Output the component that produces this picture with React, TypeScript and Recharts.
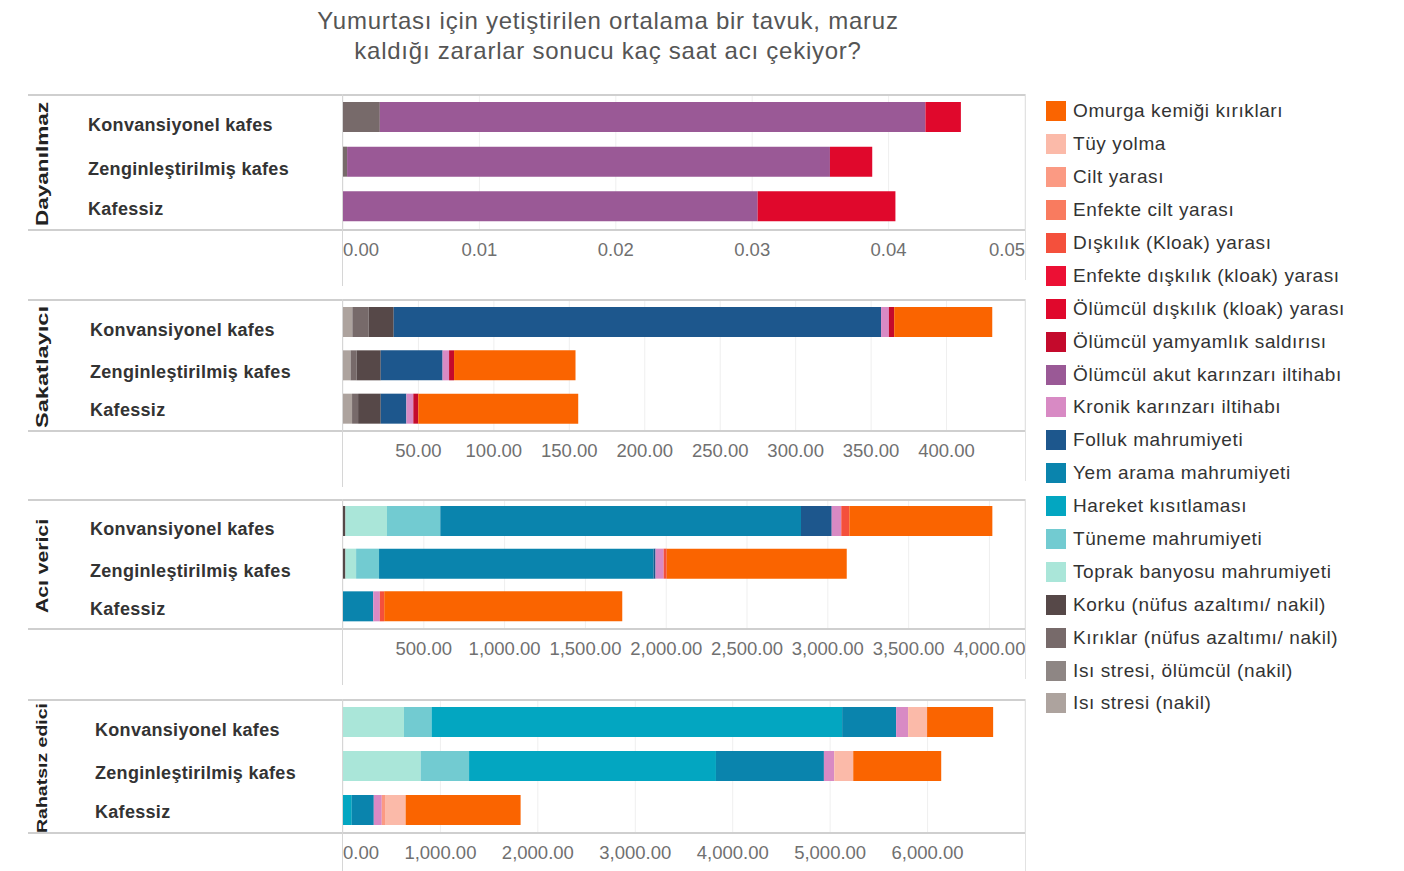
import React from 'react';
import { BarChart, Bar, XAxis, YAxis, CartesianGrid } from 'recharts';

// ---------- DATA ----------
const categories = ['Konvansiyonel kafes', 'Zenginleştirilmiş kafes', 'Kafessiz'];

const seriesNames = [
  'Omurga kemiği kırıkları',
  'Tüy yolma',
  'Cilt yarası',
  'Enfekte cilt yarası',
  'Dışkılık (Kloak) yarası',
  'Enfekte dışkılık (kloak) yarası',
  'Ölümcül dışkılık (kloak) yarası',
  'Ölümcül yamyamlık saldırısı',
  'Ölümcül akut karınzarı iltihabı',
  'Kronik karınzarı iltihabı',
  'Folluk mahrumiyeti',
  'Yem arama mahrumiyeti',
  'Hareket kısıtlaması',
  'Tüneme mahrumiyeti',
  'Toprak banyosu mahrumiyeti',
  'Korku (nüfus azaltımı/ nakil)',
  'Kırıklar (nüfus azaltımı/ nakil)',
  'Isı stresi, ölümcül (nakil)',
  'Isı stresi (nakil)',
];

const seriesColors = [
  '#fa6400', '#fbbaa9', '#fb9a83', '#f97b5f', '#f4503c', '#ec1034', '#e0082c', '#c40a2c',
  '#9a5996', '#d88ac4', '#1d578d', '#0a84ad', '#03a6c1', '#72cbd1', '#aae6d9',
  '#564848', '#776a6a', '#8e8684', '#ada39e',
];

// values per series: [Konvansiyonel, Zenginleştirilmiş, Kafessiz]
const dayanilmaz: Record<string, number[]> = {
  'Kırıklar (nüfus azaltımı/ nakil)': [0.0027, 0.0003, 0],
  'Ölümcül akut karınzarı iltihabı': [0.04, 0.0354, 0.0304],
  'Ölümcül dışkılık (kloak) yarası': [0.0026, 0.0031, 0.0101],
};

const sakatlayici: Record<string, number[]> = {
  'Isı stresi (nakil)': [6.2, 5, 6],
  'Kırıklar (nüfus azaltımı/ nakil)': [10.8, 4, 4],
  'Korku (nüfus azaltımı/ nakil)': [16.6, 16, 15],
  'Folluk mahrumiyeti': [323, 41, 17],
  'Kronik karınzarı iltihabı': [5.2, 4.3, 4.6],
  'Ölümcül yamyamlık saldırısı': [3.5, 3.3, 3.3],
  'Omurga kemiği kırıkları': [65, 80.5, 106],
};

const aciVerici: Record<string, number[]> = {
  'Korku (nüfus azaltımı/ nakil)': [15, 15, 0],
  'Toprak banyosu mahrumiyeti': [257, 66, 0],
  'Tüneme mahrumiyeti': [330, 142, 0],
  'Yem arama mahrumiyeti': [2232, 1699, 187],
  'Folluk mahrumiyeti': [190, 12, 0],
  'Kronik karınzarı iltihabı': [59, 50, 41],
  'Dışkılık (Kloak) yarası': [50, 19, 27],
  'Omurga kemiği kırıkları': [885, 1114, 1473],
};

const rahatsizEdici: Record<string, number[]> = {
  'Toprak banyosu mahrumiyeti': [626, 797, 0],
  'Tüneme mahrumiyeti': [283, 497, 0],
  'Hareket kısıtlaması': [4214, 2534, 90],
  'Yem arama mahrumiyeti': [554, 1108, 226],
  'Kronik karınzarı iltihabı': [123, 106, 82],
  'Cilt yarası': [0, 0, 40],
  'Tüy yolma': [195, 195, 205],
  'Omurga kemiği kırıkları': [678, 903, 1180],
};

const ticks1 = [0, 0.01, 0.02, 0.03, 0.04, 0.05];
const ticks2 = [50, 100, 150, 200, 250, 300, 350, 400];
const ticks3 = [500, 1000, 1500, 2000, 2500, 3000, 3500, 4000];
const ticks4 = [0, 1000, 2000, 3000, 4000, 5000, 6000];

const titleLines = [
  'Yumurtası için yetiştirilen ortalama bir tavuk, maruz',
  'kaldığı zararlar sonucu kaç saat acı çekiyor?',
];

// ---------- HELPERS ----------
const buildRows = (panel: Record<string, number[]>) =>
  categories.map((name, i) => {
    const row: Record<string, any> = { name };
    seriesNames.forEach((s, k) => {
      row['s' + k] = panel[s] ? panel[s][i] : 0;
    });
    return row;
  });

const fmt = (v: number) =>
  v.toLocaleString('en-US', { minimumFractionDigits: 2, maximumFractionDigits: 2 });

const FONT = '"Liberation Sans", Arial, sans-serif';

const panels = [
  { label: 'Dayanılmaz', data: dayanilmaz, domain: [0, 0.05], ticks: ticks1, top: 95, bottom: 229, labelX: 88, labelLen: 124, labelSize: 16 },
  { label: 'Sakatlayıcı', data: sakatlayici, domain: [0, 452], ticks: ticks2, top: 300, bottom: 430, labelX: 90, labelLen: 122, labelSize: 16 },
  { label: 'Acı verici', data: aciVerici, domain: [0, 4220], ticks: ticks3, top: 500, bottom: 628, labelX: 90, labelLen: 94, labelSize: 16 },
  { label: 'Rahatsız edici', data: rahatsizEdici, domain: [0, 7000], ticks: ticks4, top: 700, bottom: 832, labelX: 95, labelLen: 130, labelSize: 14 },
];

const rowLabelOffsets = [8, 7, 2];

const makeXTick = (domain: number[]) => (props: any) => {
  const { x, y, payload } = props;
  const v = payload.value;
  let anchor: 'start' | 'middle' | 'end' = 'middle';
  if (v === domain[0]) anchor = 'start';
  else if (v === domain[1]) anchor = 'end';
  return (
    <text x={x} y={y + 20} textAnchor={anchor} dominantBaseline="central" fill="#707070" fontSize={18.5} fontFamily={FONT}>
      {fmt(v)}
    </text>
  );
};

const makeYTick = (labelX: number) => (props: any) => {
  const { y, index, payload } = props;
  return (
    <text x={labelX} y={y + (rowLabelOffsets[index] || 0)} textAnchor="start" dominantBaseline="central" fill="#333" fontSize={18} fontWeight="bold" letterSpacing={0.3} fontFamily={FONT}>
      {payload.value}
    </text>
  );
};

const line = (left: number, top: number, width: number, height: number, color = '#cfcfcf') => (
  <div style={{ position: 'absolute', left, top, width, height, background: color }} />
);

export default function App() {
  const stackOrder = seriesNames.map((_, k) => k).reverse();
  return (
    <div style={{ position: 'absolute', left: 0, top: 0, width: 1404, height: 871, background: '#fff', fontFamily: FONT, overflow: 'hidden' }}>
      {titleLines.map((t, i) => (
        <div key={i} style={{ position: 'absolute', left: 0, width: 1216, top: 7 + i * 30, textAlign: 'center', fontSize: 24, letterSpacing: 0.75, color: '#555', lineHeight: '28px' }}>
          {t}
        </div>
      ))}

      {panels.map((p, pi) => {
        const plotH = p.bottom - p.top;
        return (
          <React.Fragment key={pi}>
            <div style={{ position: 'absolute', left: 0, top: p.top }}>
              <BarChart
                width={1030}
                height={plotH + 50}
                data={buildRows(p.data)}
                layout="vertical"
                margin={{ top: 0, right: 5, left: 0, bottom: 0 }}
                barSize={30}
              >
                <CartesianGrid horizontal={false} vertical stroke="#efefef" />
                <XAxis
                  type="number"
                  domain={p.domain}
                  ticks={p.ticks}
                  height={50}
                  tickLine={false}
                  axisLine={false}
                  tickSize={0}
                  tickMargin={0}
                  interval={0}
                  allowDataOverflow
                  tick={makeXTick(p.domain)}
                />
                <YAxis
                  type="category"
                  dataKey="name"
                  width={343}
                  tickLine={false}
                  axisLine={false}
                  tickSize={0}
                  tickMargin={0}
                  interval={0}
                  tick={makeYTick(p.labelX)}
                />
                {stackOrder.map((k) => (
                  <Bar key={k} dataKey={'s' + k} name={seriesNames[k]} stackId="a" fill={seriesColors[k]} isAnimationActive={false} />
                ))}
              </BarChart>
            </div>
            {line(28, p.top - 1, 997, 2)}
            {line(28, p.bottom, 997, 2)}
            {line(342, p.top - 1, 1, plotH + 58, '#d6d6d6')}
            {line(1025, p.top - 1, 1, plotH + 52, '#e2e2e2')}
          </React.Fragment>
        );
      })}

      <svg style={{ position: 'absolute', left: 0, top: 0 }} width={80} height={871}>
        {panels.map((p, pi) => {
          const cy = (p.top + p.bottom) / 2 + 2;
          return (
            <text
              key={pi}
              x={42}
              y={cy}
              transform={`rotate(-90, 42, ${cy})`}
              textAnchor="middle"
              dominantBaseline="central"
              fontSize={p.labelSize}
              fontWeight="bold"
              fill="#222"
              fontFamily={FONT}
              textLength={p.labelLen}
              lengthAdjust="spacingAndGlyphs"
            >
              {p.label}
            </text>
          );
        })}
      </svg>

      <div style={{ position: 'absolute', left: 1046, top: 95 }}>
        {seriesNames.map((s, k) => (
          <div key={k} style={{ display: 'flex', alignItems: 'center', height: 32.9 }}>
            <div style={{ width: 20, height: 20, background: seriesColors[k], flex: '0 0 auto' }} />
            <span style={{ marginLeft: 7, fontSize: 19, letterSpacing: 0.6, color: '#333', whiteSpace: 'nowrap' }}>{s}</span>
          </div>
        ))}
      </div>
    </div>
  );
}
